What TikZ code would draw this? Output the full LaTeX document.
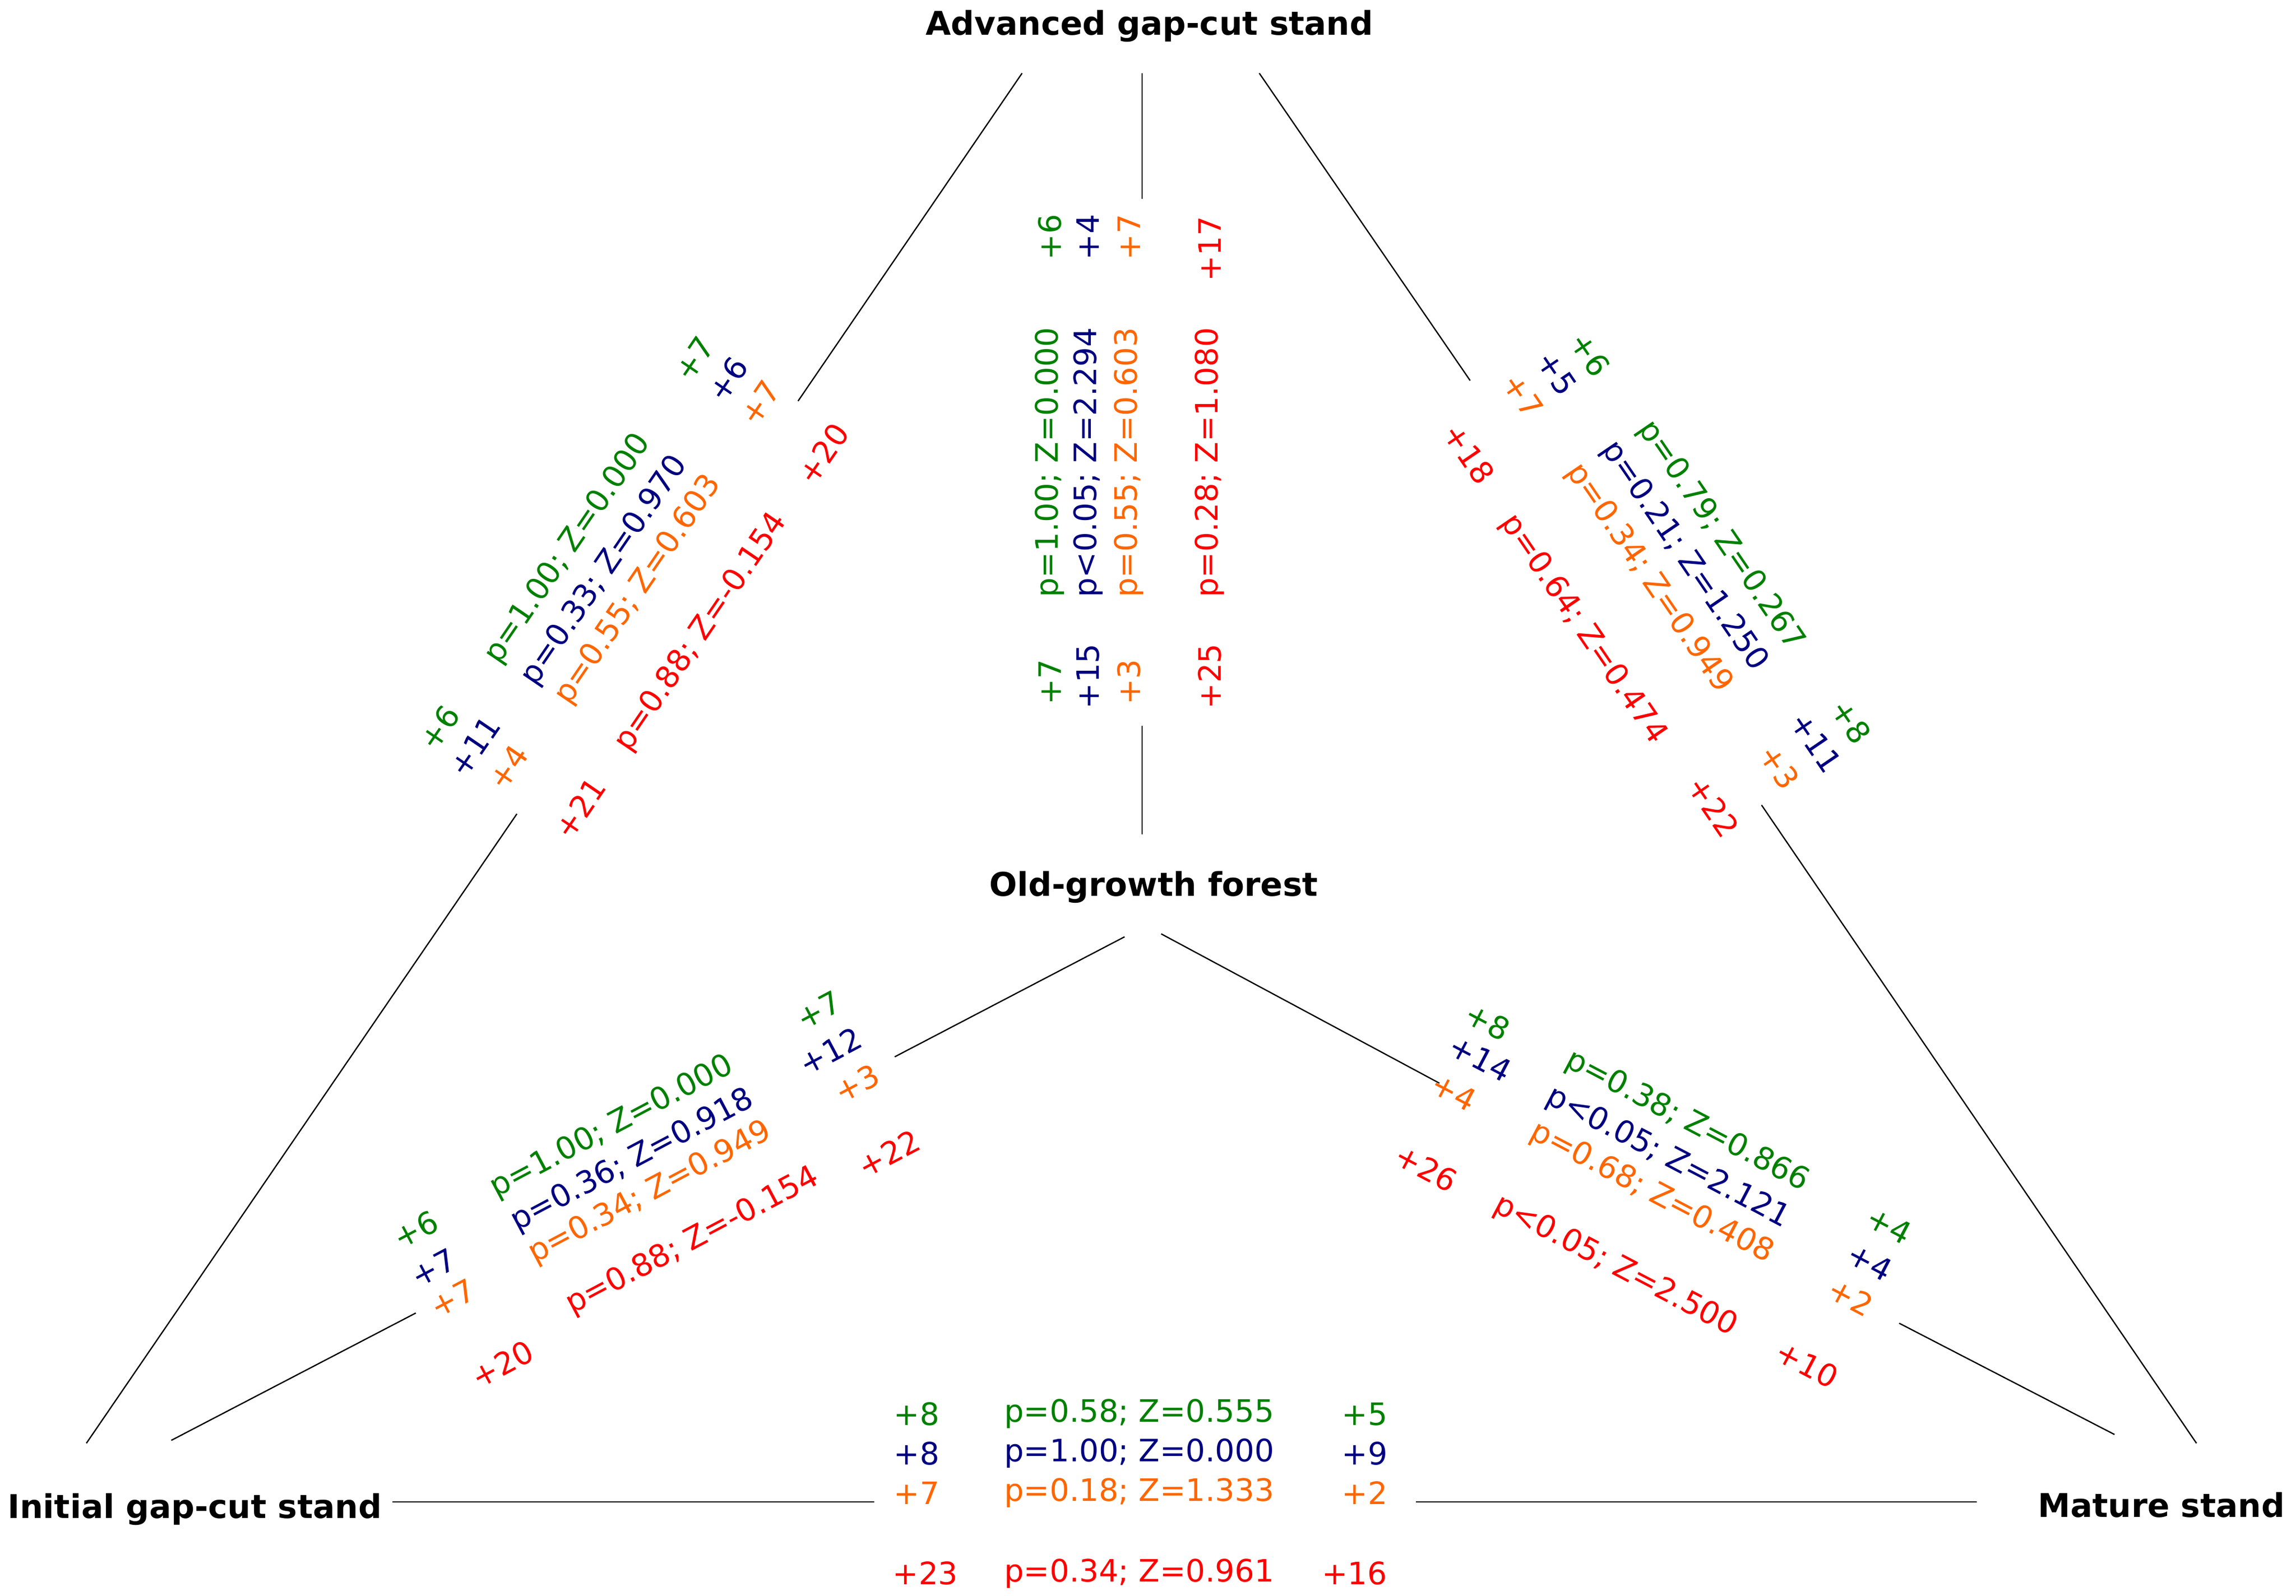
\documentclass[tikz,border=0pt]{standalone}
\usepackage{fontspec}
\setmainfont{DejaVu Sans}
\definecolor{cgreen}{RGB}{0,128,0}
\definecolor{cnavy}{RGB}{0,0,128}
\definecolor{corange}{RGB}{255,102,0}
\definecolor{cred}{RGB}{255,0,0}
\tikzset{
  stand/.style = {font=\fontsize{12.7}{14}\selectfont\bfseries},
  val/.style = {font=\fontsize{12}{14}\selectfont, inner sep=0pt},
  gr/.style = {val, text=cgreen},
  nv/.style = {val, text=cnavy},
  orr/.style = {val, text=corange},
  rd/.style = {val, text=cred},
  link/.style = {draw=black, line width=0.5pt},
}
\begin{document}
\begin{tikzpicture}[x=0.02cm, y=-0.02cm]
		\useasboundingbox (0,0) rectangle (1568,1090);

			% stands
			\node [stand] (adv) at (785,18) {Advanced gap-cut stand};
			\node [stand] (old) at (788,606) {Old-growth forest};
			\node [stand] (ini) at (133,1031) {Initial gap-cut stand};
			\node [stand] (mat) at (1476,1028) {Mature stand};

			% line ends
			\coordinate (a1) at (698,50);  \coordinate (a2) at (545,274);
			\coordinate (a3) at (353,556); \coordinate (a4) at (59,986);
			\coordinate (b1) at (780,50);  \coordinate (b2) at (780,136);
			\coordinate (b3) at (780,496); \coordinate (b4) at (780,570);
			\coordinate (c1) at (860,50);  \coordinate (c2) at (1004,260);
			\coordinate (c3) at (1203,550); \coordinate (c4) at (1500,986);
			\coordinate (d1) at (768,640); \coordinate (d2) at (611,722);
			\coordinate (d3) at (284,897); \coordinate (d4) at (117,984);
			\coordinate (e1) at (793,638); \coordinate (e2) at (983,740);
			\coordinate (e3) at (1297,904); \coordinate (e4) at (1444,980);
			\coordinate (f1) at (268,1026); \coordinate (f2) at (597,1026);
			\coordinate (f3) at (967,1026); \coordinate (f4) at (1350,1026);

			\foreach \u/\v in {a1/a2, a3/a4, b1/b2, b3/b4, c1/c2, c3/c4,
			                   d1/d2, d3/d4, e1/e2, e3/e4, f1/f2, f3/f4}
				\draw [link] (\u) -- (\v);

			% advanced - old-growth
			\begin{scope}[every node/.append style={rotate=90}]
				\node [gr] (ao1) at (717,162) {+6};
				\node [nv] (ao2) at (743,162) {+4};
				\node [orr] (ao3) at (771,162) {+7};
				\node [rd] (ao4) at (826,170) {+17};
				\node [gr] (ao5) at (717,316) {p=1.00; Z=0.000};
				\node [nv] (ao6) at (743,316) {p<0.05; Z=2.294};
				\node [orr] (ao7) at (771,316) {p=0.55; Z=0.603};
				\node [rd] (ao8) at (826,316) {p=0.28; Z=1.080};
				\node [gr] (ao9) at (717,466) {+7};
				\node [nv] (ao10) at (743,462) {+15};
				\node [orr] (ao11) at (771,466) {+3};
				\node [rd] (ao12) at (826,462) {+25};
			\end{scope}

			% advanced - initial
			\begin{scope}[every node/.append style={rotate=55.7}]
				\node [gr] (ai1) at (474,245) {+7};
				\node [nv] (ai2) at (497,259) {+6};
				\node [orr] (ai3) at (519,275) {+7};
				\node [rd] (ai4) at (562,310) {+20};
				\node [gr] (ai5) at (388,375) {p=1.00; Z=0.000};
				\node [nv] (ai6) at (413,390) {p=0.33; Z=0.970};
				\node [orr] (ai7) at (436,403) {p=0.55; Z=0.603};
				\node [rd] (ai8) at (479,432) {p=0.88; Z=-0.154};
				\node [gr] (ai9) at (300,497) {+6};
				\node [nv] (ai10) at (324,510) {+11};
				\node [orr] (ai11) at (347,524) {+4};
				\node [rd] (ai12) at (396,552) {+21};
			\end{scope}

			% advanced - mature
			\begin{scope}[every node/.append style={rotate=-55.7}]
				\node [gr] (am1) at (1086,242) {+6};
				\node [nv] (am2) at (1063,255) {+5};
				\node [orr] (am3) at (1040,270) {+7};
				\node [rd] (am4) at (1003,310) {+18};
				\node [gr] (am5) at (1175,366) {p=0.79; Z=0.267};
				\node [nv] (am6) at (1150,380) {p=0.21; Z=1.250};
				\node [orr] (am7) at (1126,395) {p=0.34; Z=0.949};
				\node [rd] (am8) at (1081,430) {p=0.64; Z=0.474};
				\node [gr] (am9) at (1264,493) {+8};
				\node [nv] (am10) at (1240,507) {+11};
				\node [orr] (am11) at (1215,524) {+3};
				\node [rd] (am12) at (1170,551) {+22};
			\end{scope}

			% old-growth - initial
			\begin{scope}[every node/.append style={rotate=27.9}]
				\node [gr] (oi1) at (559,690) {+7};
				\node [nv] (oi2) at (567,718) {+12};
				\node [orr] (oi3) at (585,740) {+3};
				\node [rd] (oi4) at (607,788) {+22};
				\node [gr] (oi5) at (418,770) {p=1.00; Z=0.000};
				\node [nv] (oi6) at (432,793) {p=0.36; Z=0.918};
				\node [orr] (oi7) at (444,815) {p=0.34; Z=0.949};
				\node [rd] (oi8) at (473,848) {p=0.88; Z=-0.154};
				\node [gr] (oi9) at (284,840) {+6};
				\node [nv] (oi10) at (296,866) {+7};
				\node [orr] (oi11) at (309,887) {+7};
				\node [rd] (oi12) at (343,932) {+20};
			\end{scope}

			% old-growth - mature
			\begin{scope}[every node/.append style={rotate=-27.7}]
				\node [gr] (om1) at (1016,698) {+8};
				\node [nv] (om2) at (1011,723) {+14};
				\node [orr] (om3) at (993,746) {+4};
				\node [rd] (om4) at (974,798) {+26};
				\node [gr] (om5) at (1152,766) {p=0.38; Z=0.866};
				\node [nv] (om6) at (1139,791) {p<0.05; Z=2.121};
				\node [orr] (om7) at (1128,815) {p=0.68; Z=0.408};
				\node [rd] (om8) at (1103,865) {p<0.05; Z=2.500};
				\node [gr] (om9) at (1290,837) {+4};
				\node [nv] (om10) at (1277,862) {+4};
				\node [orr] (om11) at (1264,886) {+2};
				\node [rd] (om12) at (1234,932) {+10};
			\end{scope}

			% initial - mature
			\node [gr] (im1) at (626,966) {+8};
			\node [nv] (im2) at (626,993) {+8};
			\node [orr] (im3) at (626,1020) {+7};
			\node [rd] (im4) at (632,1075) {+23};
			\node [gr] (im5) at (778,966) {p=0.58; Z=0.555};
			\node [nv] (im6) at (778,993) {p=1.00; Z=0.000};
			\node [orr] (im7) at (778,1020) {p=0.18; Z=1.333};
			\node [rd] (im8) at (778,1075) {p=0.34; Z=0.961};
			\node [gr] (im9) at (932,966) {+5};
			\node [nv] (im10) at (932,993) {+9};
			\node [orr] (im11) at (932,1020) {+2};
			\node [rd] (im12) at (925,1075) {+16};

\end{tikzpicture}
\end{document}
